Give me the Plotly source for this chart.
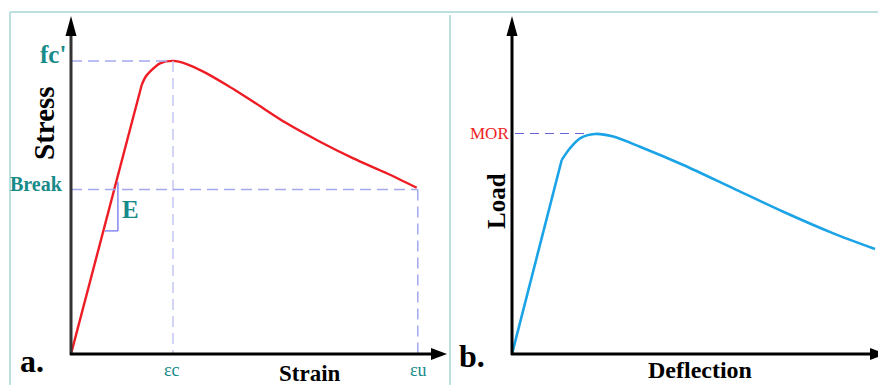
import plotly.graph_objects as go

# ---------------- data ----------------
# panel a: concrete compressive stress-strain (strain in per mille, stress in MPa)
strain_a = [0, 1.386, 1.46, 1.549, 1.745, 2.0, 2.269, 2.594, 3.053, 3.575, 4.229, 4.882, 5.535, 6.190, 6.778]
stress_a = [0, 27.53, 28.35, 28.9, 29.75, 30.0, 29.68, 28.9, 27.53, 25.82, 23.61, 21.73, 20.03, 18.5, 17.02]
fc_peak = 30.0
eps_c = 2.0
f_break = 16.85
eps_u = 6.8
E_tri_x = [0.667, 0.92]
E_tri_y = [12.6, 17.6]

# panel b: flexural load-deflection (deflection in mm, load in kN)
defl_b = [0, 0.994, 1.16, 1.36, 1.66, 2.026, 2.56, 3.426, 4.426, 5.426, 6.426, 7.26]
load_b = [0, 8.80, 9.33, 9.78, 9.98, 9.86, 9.40, 8.57, 7.51, 6.45, 5.47, 4.76]
mor = 10.0

# text labels
lab_stress, lab_strain = "Stress", "Strain"
lab_load, lab_defl = "Load", "Deflection"
lab_fc, lab_break, lab_E = "fc'", "Break", "E"
lab_ec, lab_eu = "εc", "εu"
lab_mor = "MOR"
lab_a, lab_b = "a.", "b."

# ---------------- layout helpers ----------------
W, H = 878, 385
def px(x):
    return x / W
def py(y):
    return 1 - y / H

TEAL = "#178a8a"
FONT = "Liberation Serif, Times New Roman, serif"
RED = "#ee1c24"
BLUE = "#1aa3e6"
DASH_L = "#a4a9ee"
FRAME = "#a6d6d6"

ax_a = dict(x0=71, y0=354, xtip=447, ytip=16)
ax_b = dict(x0=512, y0=354, xtip=886, ytip=16)
sx_a, sy_a = 51.0, 9.77     # px per unit
sx_b, sy_b = 50.0, 22.05

fig = go.Figure()

# elastic (straight) part then smooth softening part
fig.add_trace(go.Scatter(x=strain_a[:2], y=stress_a[:2], mode="lines",
                         line=dict(color=RED, width=2.4), xaxis="x", yaxis="y", hoverinfo="skip"))
fig.add_trace(go.Scatter(x=strain_a[1:], y=stress_a[1:], mode="lines",
                         line=dict(color=RED, width=2.4, shape="spline", smoothing=0.8),
                         xaxis="x", yaxis="y", hoverinfo="skip"))
fig.add_trace(go.Scatter(x=defl_b[:2], y=load_b[:2], mode="lines",
                         line=dict(color=BLUE, width=2.6), xaxis="x2", yaxis="y2", hoverinfo="skip"))
fig.add_trace(go.Scatter(x=defl_b[1:], y=load_b[1:], mode="lines",
                         line=dict(color=BLUE, width=2.6, shape="spline", smoothing=0.8),
                         xaxis="x2", yaxis="y2", hoverinfo="skip"))

shapes = []
# frame
shapes.append(dict(type="line", xref="paper", yref="paper", x0=px(10), x1=px(878), y0=py(12), y1=py(12),
                   line=dict(color=FRAME, width=1.5)))
shapes.append(dict(type="line", xref="paper", yref="paper", x0=px(10), x1=px(10), y0=py(12), y1=py(385),
                   line=dict(color=FRAME, width=1.5)))
shapes.append(dict(type="line", xref="paper", yref="paper", x0=px(450), x1=px(450), y0=py(15), y1=py(385),
                   line=dict(color=FRAME, width=1.5)))

# dashed guide lines (data coords)
shapes.append(dict(type="line", xref="x", yref="y", x0=0, x1=eps_c, y0=fc_peak, y1=fc_peak,
                   line=dict(color=DASH_L, width=1.5, dash="11px,6px")))
shapes.append(dict(type="line", xref="x", yref="y", x0=eps_c, x1=eps_c, y0=fc_peak, y1=0,
                   line=dict(color="#c3c6f2", width=1.5, dash="11px,6px")))
shapes.append(dict(type="line", xref="x", yref="y", x0=0, x1=eps_u, y0=f_break, y1=f_break,
                   line=dict(color=DASH_L, width=1.5, dash="11px,6px")))
shapes.append(dict(type="line", xref="x", yref="y", x0=eps_u, x1=eps_u, y0=f_break, y1=0,
                   line=dict(color=DASH_L, width=1.5, dash="11px,6px")))
shapes.append(dict(type="line", xref="x2", yref="y2", x0=0.06, x1=1.45, y0=mor, y1=mor,
                   line=dict(color="#6464d8", width=1.2, dash="9px,6px")))
# E triangle
shapes.append(dict(type="line", xref="x", yref="y", x0=E_tri_x[1], x1=E_tri_x[1], y0=E_tri_y[1], y1=E_tri_y[0],
                   line=dict(color="#6b6bf0", width=1.2)))
shapes.append(dict(type="line", xref="x", yref="y", x0=E_tri_x[0], x1=E_tri_x[1], y0=E_tri_y[0], y1=E_tri_y[0],
                   line=dict(color="#6b6bf0", width=1.2)))

def axis_arrows(g, ycol):
    x0, y0, xt, yt = g["x0"], g["y0"], g["xtip"], g["ytip"]
    hl, hw = 20, 5.5
    out = []
    out.append(dict(type="line", xref="paper", yref="paper", x0=px(x0), x1=px(x0), y0=py(y0 + 1), y1=py(yt + hl - 1),
                    line=dict(color=ycol, width=3)))
    out.append(dict(type="line", xref="paper", yref="paper", x0=px(x0 - 1), x1=px(xt - 16 + 1), y0=py(y0), y1=py(y0),
                    line=dict(color="black", width=3)))
    p = "M {} {} L {} {} L {} {} Z".format(px(x0 - hw), py(yt + hl), px(x0), py(yt), px(x0 + hw), py(yt + hl))
    out.append(dict(type="path", xref="paper", yref="paper", path=p, fillcolor="black", line=dict(width=0)))
    p = "M {} {} L {} {} L {} {} Z".format(px(xt - 16), py(y0 - 6), px(xt), py(y0), px(xt - 16), py(y0 + 6))
    out.append(dict(type="path", xref="paper", yref="paper", path=p, fillcolor="black", line=dict(width=0)))
    return out

shapes += axis_arrows(ax_a, "#333333")
shapes += axis_arrows(ax_b, "black")

ann = []
def label(text, x, y, size, color="black", bold=True, angle=0):
    ann.append(dict(text=text, x=px(x), y=py(y), xref="paper", yref="paper", showarrow=False,
                    xanchor="center", yanchor="middle", textangle=angle,
                    font=dict(family=FONT, size=size, color=color, weight=700 if bold else 400)))

label(lab_fc, 53, 55, 25, TEAL)
label(lab_stress, 44, 123, 29, "black", angle=-90)
label(lab_break, 36, 184, 20, TEAL)
label(lab_E, 130, 210, 25, TEAL)
label(lab_a, 32, 361, 32)
label(lab_ec, 172, 370, 18, TEAL, bold=False)
label(lab_strain, 310, 373, 23)
label(lab_eu, 418, 370, 18, TEAL, bold=False)
label(lab_b, 472, 356, 32)
label(lab_mor, 489, 133, 17, "#ee2222", bold=False)
label(lab_load, 497, 201, 25, "black", angle=-90)
label(lab_defl, 700, 370, 24)

def dom_x(x0, x1):
    return [px(x0), min(px(x1), 1.0)]

fig.update_layout(
    width=W, height=H,
    margin=dict(l=0, r=0, t=0, b=0),
    paper_bgcolor="white", plot_bgcolor="rgba(0,0,0,0)",
    showlegend=False,
    xaxis=dict(domain=dom_x(71, 447), range=[0, (447 - 71) / sx_a], visible=False, fixedrange=True),
    yaxis=dict(domain=[py(354), py(16)], range=[0, (354 - 16) / sy_a], visible=False, fixedrange=True),
    xaxis2=dict(domain=dom_x(512, 878), range=[0, (878 - 512) / sx_b], visible=False, fixedrange=True,
                anchor="y2"),
    yaxis2=dict(domain=[py(354), py(16)], range=[0, (354 - 16) / sy_b], visible=False, fixedrange=True,
                anchor="x2"),
    shapes=shapes,
    annotations=ann,
)

fig.write_html("out.html", config=dict(displayModeBar=False))
